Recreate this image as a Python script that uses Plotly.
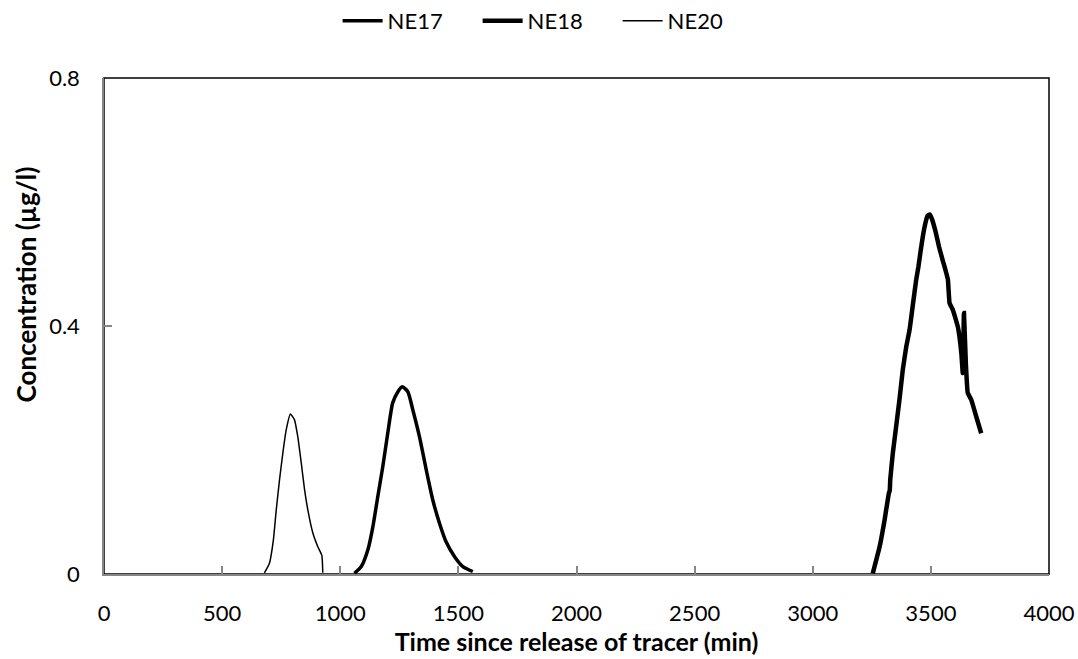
import plotly.graph_objects as go

# NE20 (thin)
ne20_t = [679, 700, 717, 729, 743, 757, 771, 789, 806, 820, 835, 849, 863, 884, 905, 922, 926]
ne20_c = [0.002, 0.017, 0.055, 0.103, 0.152, 0.195, 0.232, 0.258, 0.249, 0.222, 0.179, 0.136, 0.103, 0.066, 0.044, 0.030, 0.002]

# NE17 (medium)
ne17_t = [1060, 1089, 1117, 1138, 1159, 1180, 1201, 1222, 1244, 1262, 1286, 1307, 1335, 1364, 1392, 1420, 1448, 1484, 1519, 1561]
ne17_c = [0.001, 0.012, 0.039, 0.076, 0.125, 0.173, 0.227, 0.276, 0.294, 0.302, 0.294, 0.265, 0.222, 0.168, 0.119, 0.082, 0.052, 0.028, 0.012, 0.004]

# NE18 (thick)
ne18_t = [3254, 3283, 3304, 3322, 3326, 3328, 3339, 3353, 3367, 3381, 3396, 3410, 3423, 3438,
          3447, 3457, 3467, 3477, 3486, 3495, 3505, 3520, 3535, 3550, 3562, 3572, 3579, 3593,
          3614, 3629, 3635, 3640, 3648, 3656, 3671, 3692, 3713]
ne18_c = [0.001, 0.044, 0.087, 0.130, 0.135, 0.152, 0.195, 0.238, 0.281, 0.329, 0.367, 0.394, 0.432, 0.475,
          0.495, 0.522, 0.547, 0.566, 0.578, 0.580, 0.572, 0.552, 0.527, 0.506, 0.490, 0.475, 0.437, 0.426,
          0.399, 0.356, 0.324, 0.421, 0.340, 0.292, 0.281, 0.254, 0.227]

x_ticks = [0, 500, 1000, 1500, 2000, 2500, 3000, 3500, 4000]
y_ticks = [0, 0.4, 0.8]
y_tick_text = ["0", "0.4", "0.8"]

x_title = "Time since release of tracer (min)"
y_title = "Concentration (µg/l)"

FONT = "Lato"
AXIS_GRAY = "#868686"

fig = go.Figure()
fig.add_trace(go.Scatter(x=ne17_t, y=ne17_c, mode="lines", name="NE17",
                         line=dict(color="black", width=3.5, shape="spline", smoothing=0.6)))
fig.add_trace(go.Scatter(x=ne18_t, y=ne18_c, mode="lines", name="NE18",
                         line=dict(color="black", width=4.5, shape="spline", smoothing=0.3)))
fig.add_trace(go.Scatter(x=ne20_t, y=ne20_c, mode="lines", name="NE20",
                         line=dict(color="black", width=1.5, shape="spline", smoothing=0.5)))

fig.add_shape(type="rect", xref="x domain", yref="y domain", x0=0, x1=1, y0=0, y1=1,
              line=dict(color="black", width=1.5), layer="below")

# y-axis title placed as in the reference (slightly above the plot centre)
fig.add_annotation(text="<b>" + y_title + "</b>", xref="paper", yref="paper",
                   x=-0.083, y=0.583, xanchor="center", yanchor="middle",
                   textangle=-90, showarrow=False,
                   font=dict(family=FONT, size=26, color="black"))

fig.update_layout(
    width=1078, height=659,
    margin=dict(l=104, r=29, t=78, b=85, autoexpand=False),
    paper_bgcolor="white", plot_bgcolor="white",
    font=dict(family=FONT, size=22, color="black"),
    showlegend=True,
    legend=dict(orientation="h", xref="container", x=0.508, xanchor="center",
                yref="container", y=1.0, yanchor="top",
                font=dict(family=FONT, size=22, color="black"),
                entrywidth=85, entrywidthmode="pixels", itemwidth=40),
    xaxis=dict(range=[0, 4000], tickvals=x_ticks, ticks="inside", ticklen=8,
               tickwidth=1.5, tickcolor=AXIS_GRAY, showline=True, linecolor=AXIS_GRAY,
               linewidth=1.5, showgrid=False, zeroline=False, ticklabelstandoff=19,
               tickfont=dict(family=FONT, size=22, color="black"),
               title=dict(text="<b>" + x_title + "</b>", standoff=8,
                          font=dict(family=FONT, size=25, color="black"))),
    yaxis=dict(range=[0, 0.8], tickvals=y_ticks, ticktext=y_tick_text, ticks="inside",
               ticklen=8, tickwidth=1.5, tickcolor=AXIS_GRAY, showline=True,
               linecolor=AXIS_GRAY, linewidth=1.5, showgrid=False, zeroline=False,
               ticklabelstandoff=18,
               tickfont=dict(family=FONT, size=22, color="black")),
)

fig.write_html("out.html")
